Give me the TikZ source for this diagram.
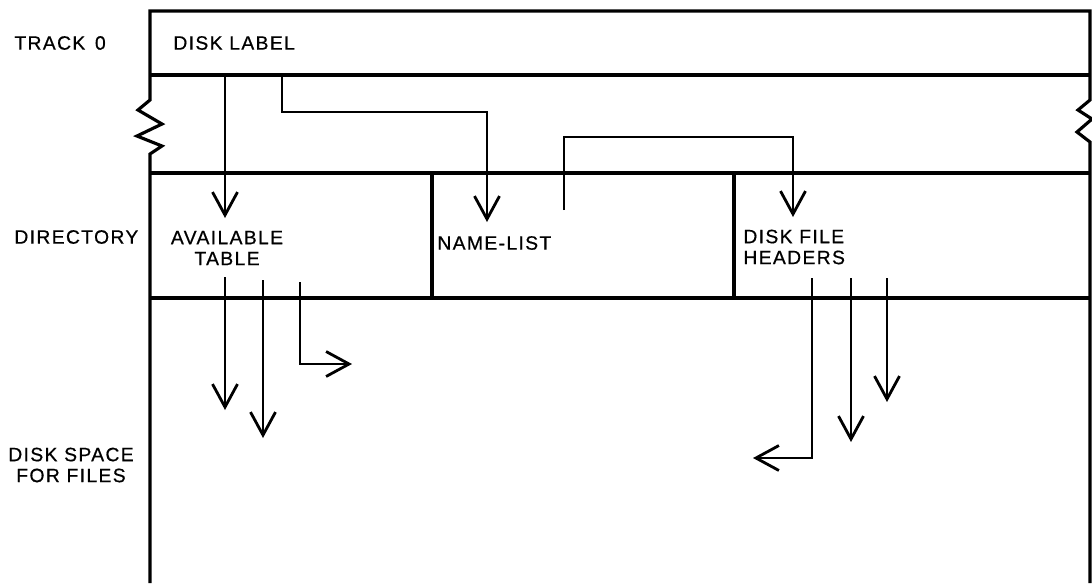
\documentclass[tikz,border=0pt]{standalone}
\usepackage{fontspec}
\newfontfamily\diskfont{Liberation Sans}[LetterSpace=7, FakeBold=0.6]
\usetikzlibrary{arrows.meta}

\begin{document}
\begin{tikzpicture}[
    x=0.02cm, y=-0.02cm,
    line width=1.6pt,
    >={Straight Barb[length=4.6mm, width=5mm]},
    wall/.style={draw, line width=1.8pt},
    link/.style={->, line width=1.6pt},
    label/.style={font=\diskfont\fontsize{11pt}{11.9pt}\selectfont, inner sep=0pt, align=left},
    caption/.style={font=\diskfont\fontsize{11pt}{11.9pt}\selectfont, inner sep=0pt, align=center}
]
\useasboundingbox (0,0) rectangle (1092,583);

% Disk outline
\draw[wall] (150,583) -- (150,154) -- (162,146) -- (137,136) -- (162,124) -- (138,110) -- (150,100) -- (150,11) -- (1090,11)
    -- (1090,100) -- (1078,110) -- (1092,119) -- (1077,132) -- (1090,142) -- (1090,583);
\draw[wall] (150,75) -- (1090,75);
\draw[wall] (150,173) -- (1090,173);
\draw[wall] (150,298) -- (1090,298);
\draw[wall] (432,173) -- (432,298);
\draw[wall] (734,173) -- (734,298);

% Row labels
\node[label, anchor=west] (track) at (13,43) {TRACK\enspace 0};
\node[label, anchor=west] (directory) at (13,237) {DIRECTORY};
\node[caption] (space) at (71,465) {DISK SPACE\\FOR FILES};

% Areas
\node[label, anchor=west] (disklabel) at (172,43) {DISK LABEL};
\node[caption] (available) at (227,248) {AVAILABLE\\TABLE};
\node[label, anchor=west] (namelist) at (436,243) {NAME-LIST};
\node[label, anchor=west] (headers) at (742,247) {DISK FILE\\HEADERS};

% Pointer ends
\coordinate (labelA) at (225,75);
\coordinate (labelB) at (282,75);
\coordinate (availIn) at (225,218);
\coordinate (nameIn) at (487,222);
\coordinate (nameOut) at (564,210);
\coordinate (headIn) at (793,217);

% Pointers from the disk label and name-list
\draw[link] (labelA) -- (availIn);
\draw[link] (labelB) -- (282,112) -| (nameIn);
\draw[link] (nameOut) -- (564,137) -| (headIn);

% Pointers into disk space
\coordinate (availA) at (225,277);
\coordinate (availB) at (263,280);
\coordinate (availC) at (300,282);
\coordinate (headA) at (812,278);
\coordinate (headB) at (851,278);
\coordinate (headC) at (887,278);

\draw[link] (availA) -- (225,410);
\draw[link] (availB) -- (263,438);
\draw[link] (availC) |- (352,364);
\draw[link] (headA) |- (753,458);
\draw[link] (headB) -- (851,442);
\draw[link] (headC) -- (887,402);

\end{tikzpicture}
\end{document}
